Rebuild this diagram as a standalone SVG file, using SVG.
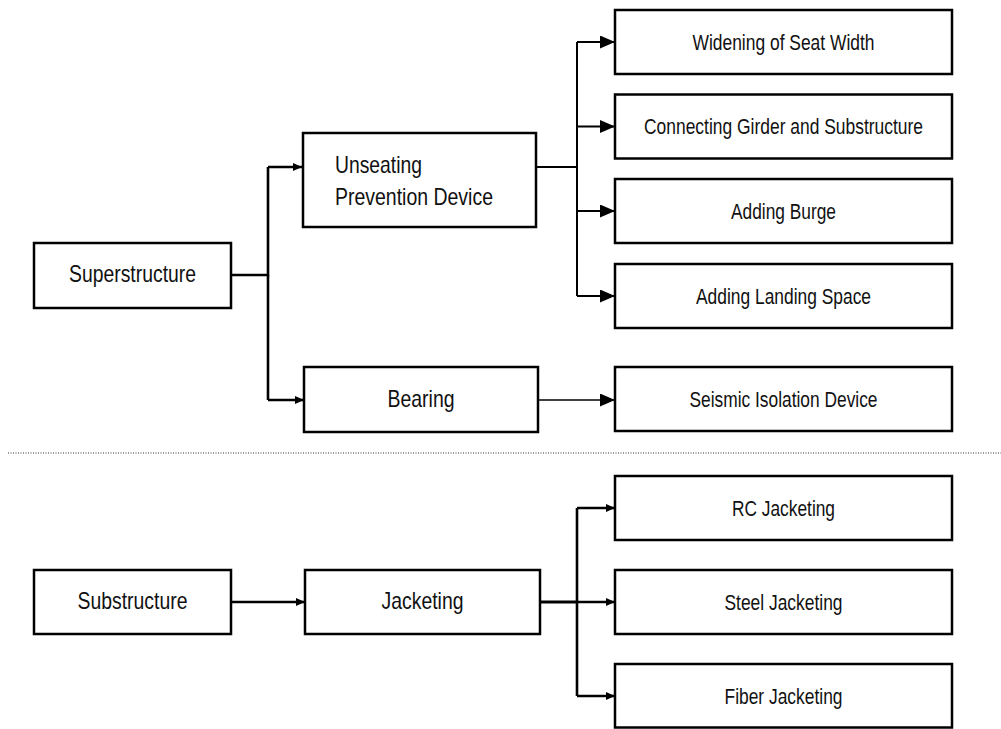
<svg xmlns="http://www.w3.org/2000/svg" width="1001" height="729" viewBox="0 0 1001 729">
<style>
.box{fill:#fff;stroke:#000;stroke-width:2.5}
.t{font-family:"Liberation Sans Narrow","Arial Narrow","Liberation Sans",Arial,sans-serif;fill:#111}
.L{font-size:23.6px}
.R{font-size:21.2px}
.c{text-anchor:middle}
.ln{fill:none;stroke:#000;stroke-width:2}
.thick{stroke-width:2.6}
.thin{stroke-width:1.5}
</style>
<defs>
<marker id="big" markerUnits="userSpaceOnUse" markerWidth="15" markerHeight="13" refX="15" refY="6.5" orient="auto">
<path d="M0,0 L15,6.5 L0,13 z" fill="#000"/>
</marker>
<marker id="small" markerUnits="userSpaceOnUse" markerWidth="9" markerHeight="8" refX="9" refY="4" orient="auto">
<path d="M0,0 L9,4 L0,8 z" fill="#000"/>
</marker>
</defs>
<rect width="1001" height="729" fill="#fff"/>

<g id="connectors">
<path class="ln thick" d="M232,275 H268 V167"/>
<path class="ln thick" d="M268,275 V400"/>
<path class="ln thick" d="M268,167 H302" marker-end="url(#small)"/>
<path class="ln thick" d="M268,400 H304" marker-end="url(#small)"/>
<path class="ln" d="M537,167 H577"/>
<path class="ln" d="M577,42 V296"/>
<path class="ln" d="M577,42 H615" marker-end="url(#big)"/>
<path class="ln" d="M577,126.5 H615" marker-end="url(#big)"/>
<path class="ln" d="M577,211 H615" marker-end="url(#big)"/>
<path class="ln" d="M577,296 H615" marker-end="url(#big)"/>
<path class="ln thin" d="M539,400 H615" marker-end="url(#big)"/>
<path class="ln thick" d="M232,602 H305" marker-end="url(#small)"/>
<path class="ln" style="stroke-width:3" d="M541,602 H577"/>
<path class="ln thick" d="M577,508 V696"/>
<path class="ln thick" d="M577,508 H615" marker-end="url(#small)"/>
<path class="ln thick" d="M577,602 H615" marker-end="url(#small)"/>
<path class="ln thick" d="M577,696 H615" marker-end="url(#small)"/>
</g>

<line id="divider" x1="8" y1="453" x2="1001" y2="453" stroke="#333" stroke-width="1" stroke-dasharray="1,1.5"/>

<g id="superstructure">
<rect class="box" x="34" y="243" width="197" height="65"/>
<text class="t L c" x="132.5" y="282" textLength="127" lengthAdjust="spacingAndGlyphs">Superstructure</text>
</g>
<g id="unseating">
<rect class="box" x="303" y="133" width="233" height="94"/>
<text class="t L" x="335" y="173" textLength="87" lengthAdjust="spacingAndGlyphs">Unseating</text>
<text class="t L" x="335" y="205" textLength="158" lengthAdjust="spacingAndGlyphs">Prevention Device</text>
</g>
<g id="bearing">
<rect class="box" x="304" y="367" width="234" height="65"/>
<text class="t L c" x="421" y="407" textLength="67" lengthAdjust="spacingAndGlyphs">Bearing</text>
</g>
<g id="widening">
<rect class="box" x="615" y="10" width="337" height="64"/>
<text class="t R c" x="783.5" y="50" textLength="182" lengthAdjust="spacingAndGlyphs">Widening of Seat Width</text>
</g>
<g id="connecting">
<rect class="box" x="615" y="94.5" width="337" height="64"/>
<text class="t R c" x="783.5" y="134" textLength="279" lengthAdjust="spacingAndGlyphs">Connecting Girder and Substructure</text>
</g>
<g id="burge">
<rect class="box" x="615" y="179" width="337" height="64"/>
<text class="t R c" x="783.5" y="218.5" textLength="105" lengthAdjust="spacingAndGlyphs">Adding Burge</text>
</g>
<g id="landing">
<rect class="box" x="615" y="264" width="337" height="64"/>
<text class="t R c" x="783.5" y="303.5" textLength="175" lengthAdjust="spacingAndGlyphs">Adding Landing Space</text>
</g>
<g id="seismic">
<rect class="box" x="615" y="367" width="337" height="64"/>
<text class="t R c" x="783.5" y="406.5" textLength="188" lengthAdjust="spacingAndGlyphs">Seismic Isolation Device</text>
</g>
<g id="substructure">
<rect class="box" x="34" y="570" width="197" height="64"/>
<text class="t L c" x="132.5" y="609" textLength="110" lengthAdjust="spacingAndGlyphs">Substructure</text>
</g>
<g id="jacketing">
<rect class="box" x="305" y="570" width="235" height="64"/>
<text class="t L c" x="422.5" y="609" textLength="82" lengthAdjust="spacingAndGlyphs">Jacketing</text>
</g>
<g id="rc">
<rect class="box" x="615" y="476" width="337" height="64"/>
<text class="t R c" x="783.5" y="515.5" textLength="103" lengthAdjust="spacingAndGlyphs">RC Jacketing</text>
</g>
<g id="steel">
<rect class="box" x="615" y="570" width="337" height="64"/>
<text class="t R c" x="783.5" y="609.5" textLength="118" lengthAdjust="spacingAndGlyphs">Steel Jacketing</text>
</g>
<g id="fiber">
<rect class="box" x="615" y="664" width="337" height="63.5"/>
<text class="t R c" x="783.5" y="703.5" textLength="118" lengthAdjust="spacingAndGlyphs">Fiber Jacketing</text>
</g>
</svg>
